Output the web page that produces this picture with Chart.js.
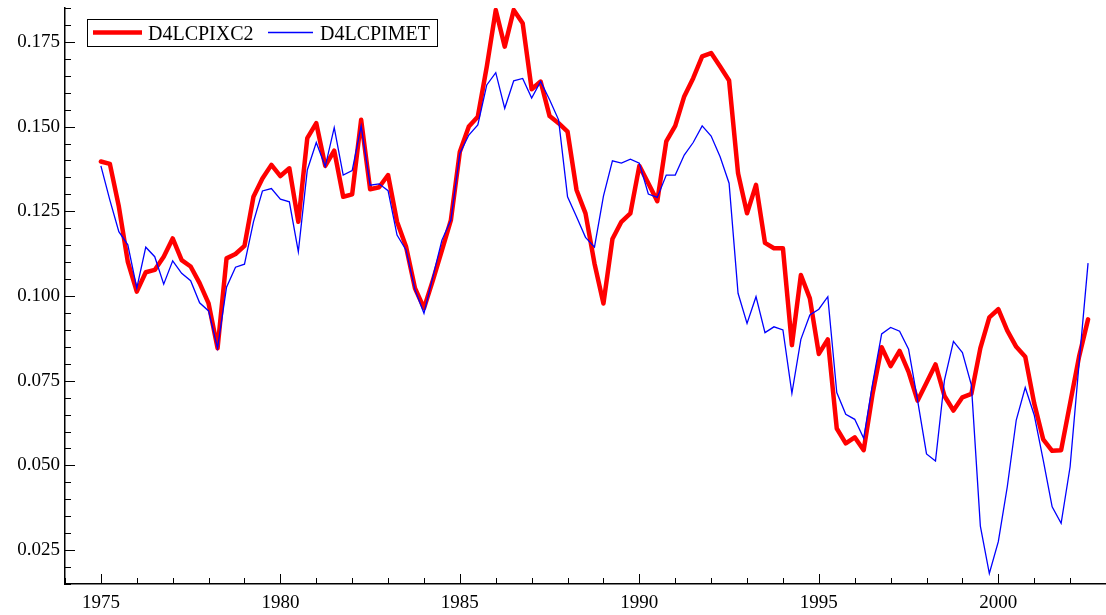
<!DOCTYPE html>
<html><head><meta charset="utf-8">
<script src="https://cdn.jsdelivr.net/npm/chart.js@4/dist/chart.umd.min.js"></script>
<style>html,body{margin:0;padding:0;background:#fff;overflow:hidden}#wrap{width:1106px;height:615px}</style>
</head><body><div id="wrap"><canvas id="c" width="1106" height="615"></canvas></div>
<script>
// ---- data (quarterly, starting 1975Q1) ----
const startYear = 1975;
const periodsPerYear = 4;
const seriesNames = ['D4LCPIXC2', 'D4LCPIMET'];
const d4lcpixc2 = [
  0.1397,0.1390,0.1264,0.1101,0.1013,0.1070,0.1077,0.1116,0.1170,0.1106,
  0.1087,0.1038,0.0978,0.0846,0.1111,0.1124,0.1148,0.1293,0.1347,0.1387,
  0.1354,0.1377,0.1219,0.1466,0.1510,0.1384,0.1429,0.1293,0.1300,0.1520,
  0.1315,0.1321,0.1357,0.1219,0.1146,0.1023,0.0964,0.1047,0.1135,0.1224,
  0.1426,0.1500,0.1529,0.1677,0.1844,0.1736,0.1844,0.1805,0.1610,0.1633,
  0.1531,0.1510,0.1485,0.1313,0.1244,0.1096,0.0978,0.1168,0.1219,0.1244,
  0.1384,0.1333,0.1280,0.1456,0.1502,0.1589,0.1643,0.1707,0.1717,0.1677,
  0.1636,0.1362,0.1244,0.1328,0.1157,0.1141,0.1141,0.0855,0.1062,0.0993,
  0.0829,0.0872,0.0609,0.0565,0.0583,0.0545,0.0713,0.0849,0.0793,0.0838,
  0.0776,0.0691,0.0744,0.0798,0.0705,0.0662,0.0701,0.0711,0.0846,0.0937,
  0.0961,0.0898,0.0850,0.0821,0.0683,0.0577,0.0543,0.0545,0.0683,0.0821,
  0.0931
];
const d4lcpimet = [
  0.1384,0.1283,0.1190,0.1151,0.1023,0.1144,0.1116,0.1035,0.1104,0.1067,
  0.1045,0.0980,0.0956,0.0846,0.1026,0.1085,0.1094,0.1219,0.1310,0.1317,
  0.1286,0.1278,0.1131,0.1372,0.1453,0.1382,0.1497,0.1357,0.1370,0.1502,
  0.1327,0.1331,0.1311,0.1180,0.1136,0.1018,0.0949,0.1057,0.1165,0.1224,
  0.1421,0.1475,0.1505,0.1623,0.1659,0.1554,0.1635,0.1642,0.1584,0.1633,
  0.1579,0.1520,0.1293,0.1234,0.1173,0.1144,0.1295,0.1399,0.1392,0.1404,
  0.1392,0.1301,0.1291,0.1357,0.1357,0.1416,0.1453,0.1502,0.1472,0.1411,
  0.1333,0.1008,0.0919,0.0998,0.0892,0.0909,0.0900,0.0713,0.0872,0.0944,
  0.0961,0.0998,0.0715,0.0651,0.0636,0.0580,0.0742,0.0888,0.0907,0.0896,
  0.0843,0.0693,0.0534,0.0513,0.0752,0.0866,0.0833,0.0737,0.0321,0.0181,
  0.0275,0.0437,0.0634,0.0730,0.0649,0.0516,0.0378,0.0329,0.0496,0.0801,
  0.1097
];
const xTickLabels = [1975, 1980, 1985, 1990, 1995, 2000];
const yTickLabels = [0.025, 0.050, 0.075, 0.100, 0.125, 0.150, 0.175];

// ---- chart ----
const toPoints = arr => arr.map((v, i) => ({ x: startYear + i / periodsPerYear, y: v }));
const tickFont = { family: '"Liberation Serif", "Times New Roman", serif', size: 19 };

const innerTicks = {
  id: 'innerTicks',
  afterDraw(chart) {
    const { ctx, chartArea: a, scales: { x, y } } = chart;
    ctx.save();
    ctx.strokeStyle = '#000';
    ctx.lineWidth = 1;
    ctx.beginPath();
    for (let yr = Math.ceil(x.min); yr <= x.max + 1e-9; yr++) {
      const px = Math.round(x.getPixelForValue(yr)) + 0.5;
      const len = xTickLabels.includes(yr) ? 10 : 6;
      ctx.moveTo(px, a.bottom);
      ctx.lineTo(px, a.bottom - len);
    }
    const step = 0.005;
    for (let k = Math.ceil(y.min / step - 1e-6); k * step <= y.max + 1e-9; k++) {
      const v = k * step;
      const py = Math.round(y.getPixelForValue(v)) + 0.5;
      const major = yTickLabels.some(t => Math.abs(t - v) < 1e-6);
      const len = major ? 10 : 6;
      ctx.moveTo(a.left, py);
      ctx.lineTo(a.left + len, py);
    }
    ctx.stroke();
    ctx.restore();
  }
};

const boxLegend = {
  id: 'boxLegend',
  afterDraw(chart) {
    const { ctx } = chart;
    ctx.save();
    ctx.fillStyle = '#fff';
    ctx.fillRect(87.5, 19.5, 350, 27);
    ctx.strokeStyle = '#000';
    ctx.lineWidth = 1;
    ctx.strokeRect(87.5, 19.5, 350, 27);
    const items = [
      { x0: 93, x1: 142, tx: 148 },
      { x0: 268, x1: 313, tx: 320 }
    ];
    ctx.font = '20px "Liberation Serif", "Times New Roman", serif';
    ctx.textBaseline = 'alphabetic';
    chart.data.datasets.forEach((ds, i) => {
      const it = items[i];
      ctx.strokeStyle = ds.borderColor;
      ctx.lineWidth = ds.borderWidth;
      ctx.beginPath();
      ctx.moveTo(it.x0, 32.5);
      ctx.lineTo(it.x1, 32.5);
      ctx.stroke();
      ctx.fillStyle = '#000';
      ctx.fillText(ds.label, it.tx, 39.5);
    });
    ctx.restore();
  }
};

new Chart(document.getElementById('c'), {
  type: 'line',
  data: {
    datasets: [
      { label: seriesNames[0], data: toPoints(d4lcpixc2), borderColor: '#ff0000', borderWidth: 4.5,
        pointRadius: 0, tension: 0, borderJoinStyle: 'round', borderCapStyle: 'round', order: 2, fill: false },
      { label: seriesNames[1], data: toPoints(d4lcpimet), borderColor: '#0000ff', borderWidth: 1.3,
        pointRadius: 0, tension: 0, order: 1, fill: false }
    ]
  },
  options: {
    responsive: false,
    animation: false,
    devicePixelRatio: 1,
    layout: { padding: { top: 8, right: 0, left: 0, bottom: 0 } },
    plugins: { legend: { display: false }, tooltip: { enabled: false } },
    scales: {
      x: {
        type: 'linear', min: 1974, max: 2003,
        grid: { display: false, drawTicks: false },
        border: { display: true, color: '#000', width: 1.5 },
        ticks: { font: tickFont, color: '#000', padding: 8, autoSkip: false, maxRotation: 0,
                 callback: v => String(v) },
        afterBuildTicks: s => { s.ticks = xTickLabels.map(v => ({ value: v })); },
        afterFit: s => { s.height = 31; s.paddingLeft = 0; s.paddingRight = 0; }
      },
      y: {
        type: 'linear', min: 0.015, max: 0.185,
        grid: { display: false, drawTicks: false },
        border: { display: true, color: '#000', width: 1.5 },
        ticks: { font: tickFont, color: '#000', padding: 5, autoSkip: false,
                 callback: v => Number(v).toFixed(3) },
        afterBuildTicks: s => { s.ticks = yTickLabels.map(v => ({ value: v })); },
        afterFit: s => { s.width = 65; s.paddingTop = 0; s.paddingBottom = 0; }
      }
    }
  },
  plugins: [innerTicks, boxLegend]
});
</script>
</body></html>
